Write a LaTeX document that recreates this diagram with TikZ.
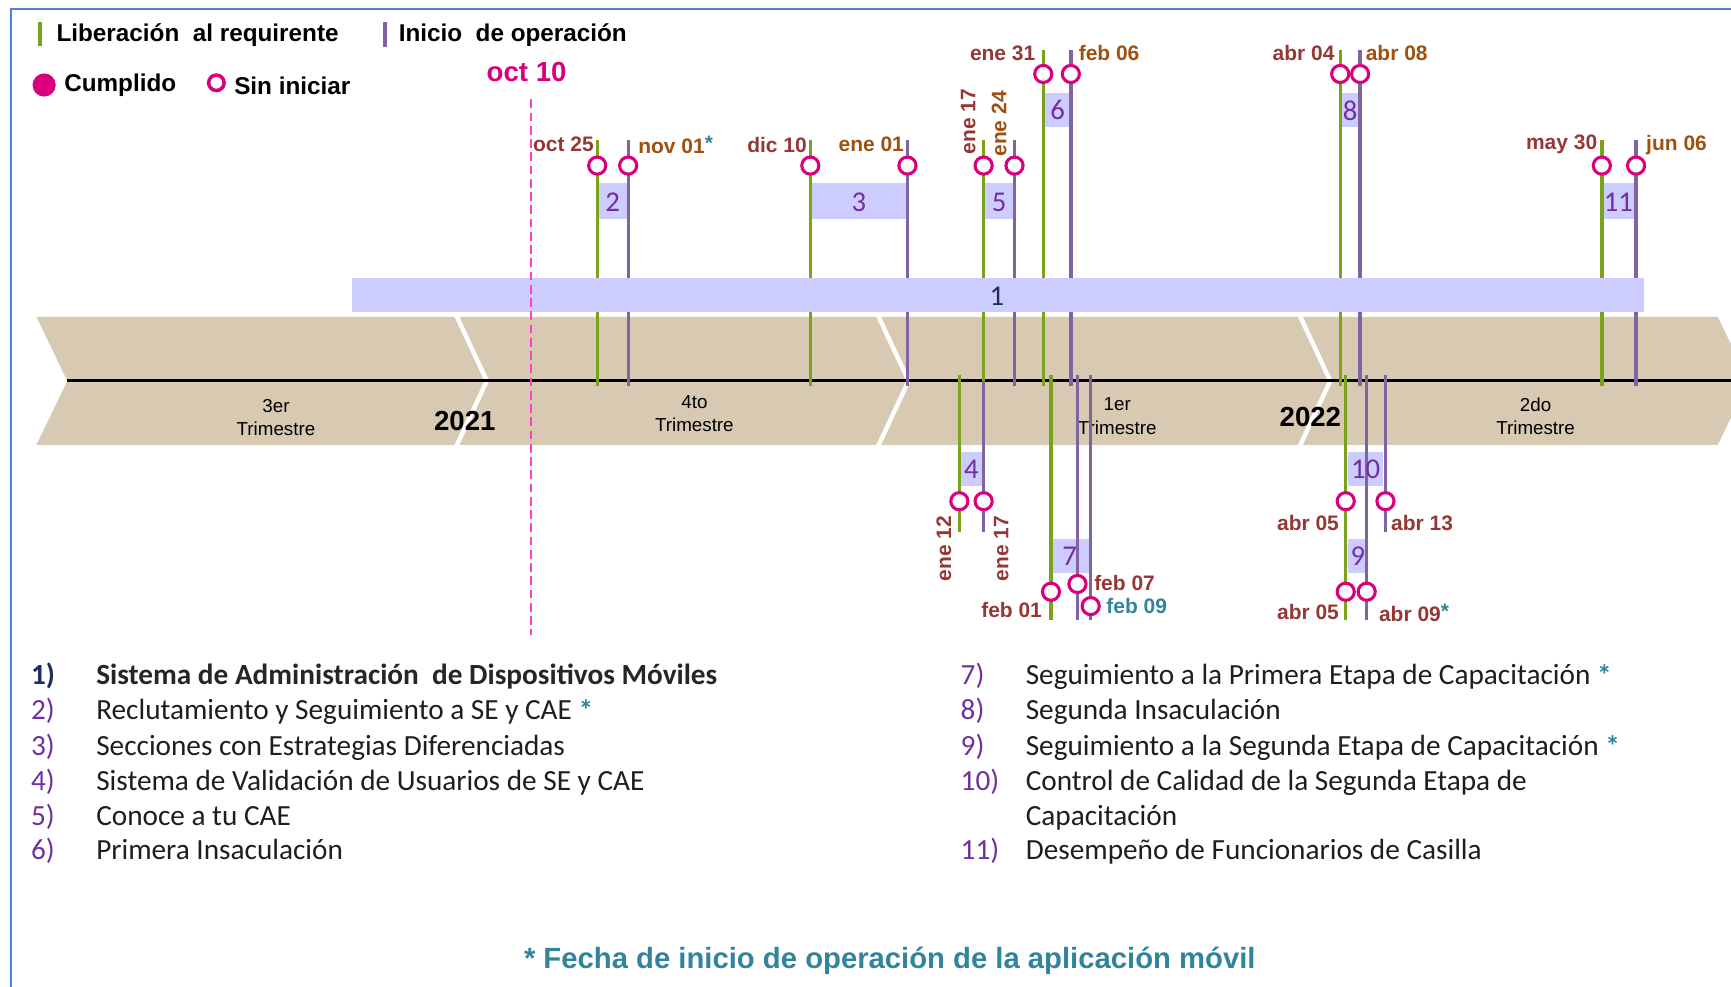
\documentclass[tikz,border=0pt]{standalone}
\usepackage{fontspec}
\setmainfont{Liberation Sans}
\newfontfamily\carl{Carlito}
\newcommand{\myfs}[1]{\fontsize{#1}{#1}\selectfont}
\definecolor{gr}{HTML}{7AA21A}
\definecolor{pu}{HTML}{8064A2}
\definecolor{mg}{HTML}{D9007E}
\definecolor{pk}{HTML}{FF3FCB}
\definecolor{lav}{HTML}{CCCCFF}
\definecolor{bandc}{HTML}{D7C9B2}
\definecolor{dr}{HTML}{953735}
\definecolor{ob}{HTML}{9E500E}
\definecolor{tl}{HTML}{31849B}
\definecolor{np}{HTML}{7030A0}
\definecolor{nv}{HTML}{1F2D5E}
\definecolor{fb}{HTML}{4F7FD8}
\definecolor{tx}{HTML}{1E1E1E}
\tikzset{
  gl/.style={draw=gr,line width=3pt},
  pl/.style={draw=pu,line width=3pt},
  ring/.style={circle,draw=mg,line width=2.8pt,fill=white,minimum size=15.5pt,inner sep=0pt},
  lbox/.style={fill=lav,draw=none},
  num/.style={text=np,font=\carl\myfs{26},inner sep=0pt},
  dlab/.style={font=\bfseries\myfs{19},inner sep=0pt},
  drl/.style={dlab,text=dr},
  obl/.style={dlab,text=ob},
  tll/.style={dlab,text=tl},
  leg/.style={font=\bfseries\myfs{22},inner sep=0pt,text=black},
  tri/.style={font=\fontsize{17}{21}\selectfont,align=center,inner sep=0pt,text=black},
  yr/.style={font=\bfseries\myfs{25},inner sep=0pt,text=black},
  lnum/.style={font=\carl\myfs{26.5},text=np,inner sep=0pt,anchor=base west},
  ltxt/.style={font=\carl\myfs{26.5},text=tx,inner sep=0pt,anchor=base west},
}
\newcommand{\tast}{\raisebox{3pt}{\textcolor{tl}{*}}}
\newcommand{\last}{\textcolor{tl}{\bfseries\raisebox{-1pt}{*}}}
\begin{document}
\begin{tikzpicture}[x=1pt,y=-1pt]
\useasboundingbox (0,0) rectangle (1568,894);
% frame
\draw[fb,line width=2pt] (10,894) -- (10,8) -- (1570,8);
% band
\fill[bandc] (33,287) -- (1556,287) -- (1584,345) -- (1556,403) -- (33,403) -- (61,345) -- cycle;
\foreach \xd in {413,795,1177}{
  \draw[white,line width=4pt] (\xd,285) -- (\xd+28,345) -- (\xd,405);
}
\coordinate (axL) at (61,345);
\coordinate (axR) at (1570,345);
\draw[black,line width=2.6pt] (axL) -- (axR);
\node[tri] (q3) at (250,378) {3er\\Trimestre};
\node[tri] (q4) at (629,375) {4to\\Trimestre};
\node[tri] (q1) at (1012,377) {1er\\Trimestre};
\node[tri] (q2) at (1391,377) {2do\\Trimestre};
\node[yr] (y21) at (421,381) {2021};
\node[yr] (y22) at (1187,378) {2022};
% small boxes
\fill[lbox] (541,166) rectangle (569,198);
\fill[lbox] (734,166) rectangle (822,198);
\fill[lbox] (891,166) rectangle (919,198);
\fill[lbox] (945,84) rectangle (970,115);
\fill[lbox] (1214,84) rectangle (1232,115);
\fill[lbox] (1451,166) rectangle (1482,198);
\fill[lbox] (869,409) rectangle (891,440);
\fill[lbox] (952,488) rectangle (988,519);
\fill[lbox] (1221,409) rectangle (1253,440);
\fill[lbox] (1221,488) rectangle (1238,519);
% vertical lines
\foreach \n/\x/\a/\b/\s in {
  g2/541/127/350/gl, p2/569/127/350/pl,
  g3/734/127/350/gl, p3/822/127/350/pl,
  g5/891/127/350/gl, p5/919/127/350/pl,
  g6/945/45/350/gl, p6/970/45/350/pl,
  g8/1214/45/350/gl, p8/1232/45/350/pl,
  g11/1451/127/350/gl, p11/1482/127/350/pl,
  g4/869/340/482/gl, p4/891/345/482/pl,
  g7/952/340/562/gl, p7a/976/340/562/pl, p7b/988/340/562/pl,
  g9/1219/340/562/gl, p9/1238/340/562/pl, p10/1255/340/482/pl}{
  \coordinate (\n-t) at (\x,\a);
  \coordinate (\n-b) at (\x,\b);
  \draw[style=\s] (\n-t) -- (\n-b);
}
% bar 1
\fill[lbox] (319,252) rectangle (1489,283);
\node[text=nv,font=\carl\myfs{26},inner sep=0pt] (n1) at (903,268) {1};
% dashed oct 10
\coordinate (dT) at (481,90);
\coordinate (dB) at (481,575);
\draw[pk,line width=2.4pt,dash pattern=on 8pt off 4pt] (dT) -- (dB);
\node[font=\bfseries\myfs{25},text=mg,inner sep=0pt] (o10) at (477,65) {oct 10};
% box numbers
\node[num] (n2) at (555,183) {2};
\node[num] (n3) at (778,183) {3};
\node[num] (n5) at (905,183) {5};
\node[num] (n6) at (958,100) {6};
\node[num] (n8) at (1223,100) {8};
\node[num] (n11) at (1466,183) {11};
\node[num] (n4) at (880,425) {4};
\node[num] (n7) at (969,504) {7};
\node[num] (n10) at (1237,425) {10};
\node[num] (n9) at (1230,504) {9};
% rings
\foreach \n/\x/\y in {
  r2a/541/150, r2b/569/150, r3a/734/150, r3b/822/150,
  r5a/891/150, r5b/919/150, r6a/945/67, r6b/970/67,
  r8a/1214/67, r8b/1232/67, r11a/1451/150, r11b/1482/150,
  r4a/869/454, r4b/891/454, r7a/952/536, r7b/976/529, r7c/988/549,
  r10a/1219/454, r10b/1255/454, r9a/1219/536, r9b/1238/536}{
  \node[ring] (\n) at (\x,\y) {};
}
% date labels
\node[drl,anchor=east] (l1) at (538,131) {oct 25};
\node[obl,anchor=west] (l2) at (578,131) {nov 01\tast};
\node[drl,anchor=east] (l3) at (731,131) {dic 10};
\node[obl,anchor=east] (l4) at (819,131) {ene 01};
\node[drl,rotate=90,anchor=west] (l5) at (877,140) {ene 17};
\node[obl,rotate=90,anchor=west] (l6) at (905,142) {ene 24};
\node[drl,anchor=east] (l7) at (938,48) {ene 31};
\node[obl,anchor=west] (l8) at (977,48) {feb 06};
\node[drl,anchor=east] (l9) at (1209,48) {abr 04};
\node[obl,anchor=west] (l10) at (1237,48) {abr 08};
\node[drl,anchor=east] (l11) at (1447,131) {may 30};
\node[obl,anchor=west] (l12) at (1491,131) {jun 06};
\node[drl,rotate=90,anchor=east] (l13) at (855,467) {ene 12};
\node[drl,rotate=90,anchor=east] (l14) at (907,467) {ene 17};
\node[drl,anchor=east] (l15) at (944,553) {feb 01};
\node[drl,anchor=west] (l16) at (991,528) {feb 07};
\node[tll,anchor=west] (l17) at (1002,549) {feb 09};
\node[drl,anchor=east] (l18) at (1213,474) {abr 05};
\node[drl,anchor=west] (l19) at (1260,474) {abr 13};
\node[drl,anchor=east] (l20) at (1213,554) {abr 05};
\node[drl,anchor=west] (l21) at (1249,555) {abr 09\tast};
% legend
\coordinate (lgT) at (36,20); \coordinate (lgB) at (36,42);
\draw[gr,line width=3.5pt] (lgT) -- (lgB);
\node[leg,anchor=west] (lg1) at (51,32) {Liberación\ \ al requirente};
\coordinate (lpT) at (349,20); \coordinate (lpB) at (349,43);
\draw[pu,line width=3.5pt] (lpT) -- (lpB);
\node[leg,anchor=west] (lg2) at (361,32) {Inicio\ \ de operación};
\node[circle,fill=mg,minimum size=21pt,inner sep=0pt] (lc1) at (40,77) {};
\node[leg,anchor=west] (lg3) at (58,77) {Cumplido};
\node[ring,minimum size=14pt,line width=3.2pt] (lc2) at (196,75) {};
\node[leg,anchor=west] (lg4) at (212,78) {Sin iniciar};
% list left
\node[lnum,text=nv,font=\carl\bfseries\myfs{26.5}] (k1) at (28,620) {1)};
\node[ltxt,font=\carl\bfseries\myfs{26.5},text=black!85] (t1) at (87,620) {Sistema de Administración\ \ de Dispositivos Móviles};
\node[lnum] (k2) at (28,652) {2)};
\node[ltxt] (t2) at (87,652) {Reclutamiento y Seguimiento a SE y CAE \last};
\node[lnum] (k3) at (28,684) {3)};
\node[ltxt] (t3) at (87,684) {Secciones con Estrategias Diferenciadas};
\node[lnum] (k4) at (28,716) {4)};
\node[ltxt] (t4) at (87,716) {Sistema de Validación de Usuarios de SE y CAE};
\node[lnum] (k5) at (28,748) {5)};
\node[ltxt] (t5) at (87,748) {Conoce a tu CAE};
\node[lnum] (k6) at (28,779) {6)};
\node[ltxt] (t6) at (87,779) {Primera Insaculación};
% list right
\node[lnum] (k7) at (870,620) {7)};
\node[ltxt] (t7) at (929,620) {Seguimiento a la Primera Etapa de Capacitación \last};
\node[lnum] (k8) at (870,652) {8)};
\node[ltxt] (t8) at (929,652) {Segunda Insaculación};
\node[lnum] (k9) at (870,684) {9)};
\node[ltxt] (t9) at (929,684) {Seguimiento a la Segunda Etapa de Capacitación \last};
\node[lnum] (k10) at (870,716) {10)};
\node[ltxt] (t10) at (929,716) {Control de Calidad de la Segunda Etapa de};
\node[ltxt] (t10b) at (929,748) {Capacitación};
\node[lnum] (k11) at (870,779) {11)};
\node[ltxt] (t11) at (929,779) {Desempeño de Funcionarios de Casilla};
% footer
\node[font=\bfseries\myfs{26.5},text=tl,inner sep=0pt,anchor=base] (ft) at (806,877) {* Fecha de inicio de operación de la aplicación móvil};
\end{tikzpicture}
\end{document}
